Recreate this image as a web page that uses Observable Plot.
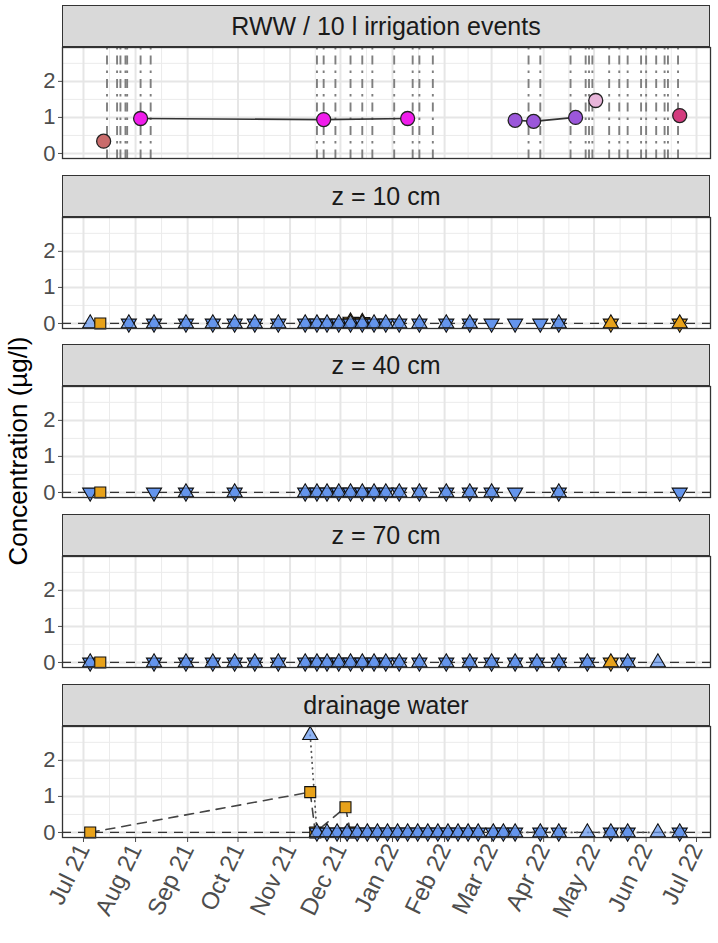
<!DOCTYPE html>
<html><head><meta charset="utf-8">
<script src="https://cdn.jsdelivr.net/npm/d3@7"></script>
<script src="https://cdn.jsdelivr.net/npm/@observablehq/plot@0.6"></script>
<style>
body{margin:0;background:#fff;}
#root{position:relative;width:718px;height:943px;font-family:"Liberation Sans",Arial,sans-serif;overflow:hidden;}
.strip{position:absolute;left:62px;width:648px;box-sizing:border-box;background:#D9D9D9;border:1.3px solid #333;display:flex;align-items:center;justify-content:center;font-size:25px;color:#1A1A1A;}
.panel{position:absolute;left:0;}
.panel svg{overflow:visible;}
#ylab{position:absolute;left:18px;top:451px;transform:translate(-50%,-50%) rotate(-90deg);font-size:26px;white-space:nowrap;color:#000;}
</style></head><body><div id="root"><div id="ylab">Concentration (µg/l)</div></div>
<script>
// ---------------- data ----------------
const facetNames = ["RWW / 10 l irrigation events", "z = 10 cm", "z = 40 cm", "z = 70 cm", "drainage water"];
const yTicks = [0, 1, 2];
const yMinor = [0.5, 1.5, 2.5];
const xTicks = ["2021-07-01","2021-08-01","2021-09-01","2021-10-01","2021-11-01","2021-12-01","2022-01-01","2022-02-01","2022-03-01","2022-04-01","2022-05-01","2022-06-01","2022-07-01"];

// RWW applied water
const rwwDates  = ["2021-07-13","2021-08-04","2021-11-21","2022-01-10","2022-03-15","2022-03-26","2022-04-20","2022-05-02","2022-06-21"];
const rwwValues = [0.34, 0.97, 0.94, 0.97, 0.92, 0.89, 1.00, 1.47, 1.05];
const rwwBatch  = ["b1","b2","b2","b2","b3","b3","b3","b4","b5"];

// irrigation events (10 l)
const irrigationDates = ["2021-07-15","2021-07-21","2021-07-23","2021-07-26","2021-07-27","2021-08-04","2021-08-10",
  "2021-11-17","2021-11-21","2021-11-28","2021-12-07","2021-12-14","2021-12-20",
  "2022-01-02","2022-01-13","2022-01-17","2022-01-25","2022-03-23","2022-03-30",
  "2022-04-17","2022-04-26","2022-04-28","2022-04-30","2022-05-10","2022-05-16","2022-05-21","2022-05-29",
  "2022-06-01","2022-06-07","2022-06-12","2022-06-14","2022-06-20"];

// z = 10 cm
const z10UpDates = ["2021-07-05","2021-07-28","2021-08-12","2021-08-31","2021-09-16","2021-09-29","2021-10-11","2021-10-25","2021-11-10","2021-11-17","2021-11-23","2021-11-30","2021-12-07","2021-12-14","2021-12-21","2021-12-28","2022-01-05","2022-01-17","2022-02-02","2022-02-16","2022-04-10"];
const z10DownDates = ["2021-07-28","2021-08-12","2021-08-31","2021-09-16","2021-09-29","2021-10-11","2021-10-25","2021-11-10","2021-11-17","2021-11-23","2021-11-30","2021-12-07","2021-12-14","2021-12-21","2021-12-28","2022-01-05","2022-01-17","2022-02-02","2022-02-16","2022-03-01","2022-03-15","2022-03-30","2022-04-10"];
const z10SquareDates = ["2021-07-11"];
const z10SquareValues = [0];
const z10StarDates = ["2021-12-07","2021-12-14","2022-05-11","2022-06-21"];
const z10StarValues = [0.05, 0.04, 0, 0];

// z = 40 cm
const z40UpDates = ["2021-08-31","2021-09-29","2021-11-10","2021-11-17","2021-11-23","2021-11-30","2021-12-07","2021-12-14","2021-12-21","2021-12-28","2022-01-05","2022-01-17","2022-02-02","2022-02-16","2022-03-01","2022-04-10"];
const z40DownDates = ["2021-07-05","2021-08-12","2021-08-31","2021-09-29","2021-11-10","2021-11-17","2021-11-23","2021-11-30","2021-12-07","2021-12-14","2021-12-21","2021-12-28","2022-01-05","2022-01-17","2022-02-02","2022-02-16","2022-03-01","2022-03-15","2022-04-10","2022-06-21"];
const z40SquareDates = ["2021-07-11"];
const z40SquareValues = [0];

// z = 70 cm
const z70UpDates = ["2021-07-05","2021-08-12","2021-08-31","2021-09-16","2021-09-29","2021-10-11","2021-10-25","2021-11-10","2021-11-17","2021-11-23","2021-11-30","2021-12-07","2021-12-14","2021-12-21","2021-12-28","2022-01-05","2022-01-17","2022-02-02","2022-02-16","2022-03-01","2022-03-15","2022-03-28","2022-04-10","2022-04-27","2022-05-21","2022-06-08"];
const z70DownDates = ["2021-07-05","2021-08-12","2021-08-31","2021-09-16","2021-09-29","2021-10-11","2021-10-25","2021-11-10","2021-11-17","2021-11-23","2021-11-30","2021-12-07","2021-12-14","2021-12-21","2021-12-28","2022-01-05","2022-01-17","2022-02-02","2022-02-16","2022-03-01","2022-03-15","2022-03-28","2022-04-10","2022-04-27","2022-05-21"];
const z70SquareDates = ["2021-07-11"];
const z70SquareValues = [0];
const z70StarDates = ["2022-05-11"];
const z70StarValues = [0];

// drainage water
const drUpDates = ["2021-11-13","2021-11-17","2021-11-23","2021-11-29","2021-12-05","2021-12-11","2021-12-17","2021-12-23","2021-12-29","2022-01-04","2022-01-10","2022-01-16","2022-01-22","2022-01-28","2022-02-03","2022-02-09","2022-02-15","2022-02-21","2022-03-02","2022-03-08","2022-03-15","2022-03-30","2022-04-10","2022-04-27","2022-05-11","2022-05-21","2022-06-08","2022-06-21"];
const drUpValues = [2.70,0,0,0,0,0,0,0,0,0,0,0,0,0,0,0,0,0,0,0,0,0,0,0,0,0,0,0];
const drDownDates = ["2021-11-17","2021-11-23","2021-11-29","2021-12-05","2021-12-11","2021-12-17","2021-12-23","2021-12-29","2022-01-04","2022-01-10","2022-01-16","2022-01-22","2022-01-28","2022-02-03","2022-02-09","2022-02-15","2022-02-21","2022-03-02","2022-03-08","2022-03-15","2022-03-30","2022-04-10","2022-05-11","2022-05-21","2022-06-21"];
const drSquareDates = ["2021-07-05","2021-11-13","2021-11-16","2021-12-04","2021-12-07"];
const drSquareValues = [0, 1.12, 0, 0.70, 0];

// ---------------- styles ----------------
const FONT = '"Liberation Sans", Arial, sans-serif';
const batchColors = {b1: "#C96B6B", b2: "#F01DEB", b3: "#9B57DA", b4: "#E8B5DA", b5: "#D33C7E"};
const BLUE = "#6495ED", ORANGE = "#E8A21A";
const panelTops = [47, 217, 386, 556, 726];
const PANEL_H = 111, PAD = 10, STRIP_H = 42;

const D = s => new Date(s + "T00:00:00Z");
const S3 = Math.sqrt(3);
const triDown = {draw(ctx, size) {
  const y = -Math.sqrt(size / (S3 * 3));
  ctx.moveTo(0, -2 * y); ctx.lineTo(S3 * y, y); ctx.lineTo(-S3 * y, y); ctx.closePath();
}};
const triUp = {draw(ctx, size) {
  const y = -Math.sqrt(size / (S3 * 3));
  ctx.moveTo(0, 2 * y); ctx.lineTo(-S3 * y, -y); ctx.lineTo(S3 * y, -y); ctx.closePath();
}};

const majorX = xTicks.map(D);
const minorX = majorX.slice(0, -1).map((d, i) => new Date((+d + +majorX[i + 1]) / 2));
const rows = (dates, values) => dates.map((d, i) => ({date: D(d), value: values ? values[i] : 0}));

function upDots(data) { return Plot.dot(data, {x: "date", y: "value", symbol: triUp, r: 5.6, fill: BLUE, fillOpacity: 0.72, stroke: "#111", strokeWidth: 1.1}); }
function downDots(data) { return Plot.dot(data, {x: "date", y: "value", symbol: triDown, r: 5.6, fill: BLUE, stroke: "#111", strokeWidth: 1.1}); }
function squareDots(data) { return Plot.dot(data, {x: "date", y: "value", symbol: "square", r: 6.2, fill: ORANGE, stroke: "#111", strokeWidth: 1.1}); }
function starDots(data) { return [
  Plot.dot(data, {x: "date", y: "value", symbol: triDown, r: 5.6, fill: ORANGE, stroke: "#111", strokeWidth: 1.1}),
  Plot.dot(data, {x: "date", y: "value", symbol: triUp, r: 5.6, fill: ORANGE, stroke: "#111", strokeWidth: 1.1})
]; }

const zeroLine = Plot.ruleY([0], {stroke: "#333", strokeWidth: 1.3, strokeDasharray: "9,7"});

const rwwData = rwwDates.map((d, i) => ({date: D(d), value: rwwValues[i], batch: rwwBatch[i]}));
const irr = irrigationDates.map(D);

const panelMarks = [
  [
    Plot.ruleX(irr, {x: d => d, stroke: "#7F7F7F", strokeWidth: 1.9, strokeDasharray: "2.5,6,9,6"}),
    Plot.line(rwwData.filter(d => d.batch === "b2" || d.batch === "b3"), {x: "date", y: "value", z: "batch", stroke: "#333", strokeWidth: 1.6}),
    Plot.dot(rwwData, {x: "date", y: "value", r: 7, fill: d => batchColors[d.batch], stroke: "#222", strokeWidth: 1.3})
  ],
  [
    zeroLine,
    starDots(rows(z10StarDates, z10StarValues).slice(0, 2)),
    downDots(rows(z10DownDates)), upDots(rows(z10UpDates)),
    squareDots(rows(z10SquareDates, z10SquareValues)),
    starDots(rows(z10StarDates, z10StarValues).slice(2))
  ],
  [
    zeroLine,
    downDots(rows(z40DownDates)), upDots(rows(z40UpDates)),
    squareDots(rows(z40SquareDates, z40SquareValues))
  ],
  [
    zeroLine,
    downDots(rows(z70DownDates)), upDots(rows(z70UpDates)),
    squareDots(rows(z70SquareDates, z70SquareValues)),
    starDots(rows(z70StarDates, z70StarValues))
  ],
  [
    zeroLine,
    Plot.line(rows(drSquareDates, drSquareValues), {x: "date", y: "value", stroke: "#444", strokeWidth: 1.6, strokeDasharray: "9,7"}),
    Plot.line(rows(drUpDates, drUpValues), {x: "date", y: "value", stroke: "#555", strokeWidth: 1.8, strokeDasharray: "0.5,5", strokeLinecap: "round"}),
    squareDots(rows(drSquareDates, drSquareValues)),
    downDots(rows(drDownDates)), upDots(rows(drUpDates, drUpValues))
  ]
];

const root = document.getElementById("root");
const X_DOMAIN = [new Date("2021-06-18T12:00:00Z"), new Date("2022-07-09T08:00:00Z")];

facetNames.forEach((name, k) => {
  const last = k === facetNames.length - 1;
  const strip = document.createElement("div");
  strip.className = "strip";
  strip.style.top = (panelTops[k] - STRIP_H) + "px";
  strip.style.height = STRIP_H + "px";
  strip.textContent = name;
  root.appendChild(strip);

  const mb = last ? 943 - panelTops[k] - PANEL_H : PAD;
  const chart = Plot.plot({
    width: 718,
    height: PAD + PANEL_H + mb,
    marginLeft: 62, marginRight: 8, marginTop: PAD, marginBottom: mb,
    style: {fontFamily: FONT, background: "transparent", overflow: "visible"},
    x: {type: "utc", domain: X_DOMAIN},
    y: {domain: [-0.14, 2.94]},
    marks: [
      Plot.gridX({ticks: minorX, stroke: "#EBEBEB", strokeOpacity: 1, strokeWidth: 1}),
      Plot.gridY({ticks: yMinor, stroke: "#EBEBEB", strokeOpacity: 1, strokeWidth: 1}),
      Plot.gridX({ticks: majorX, stroke: "#E6E6E6", strokeOpacity: 1, strokeWidth: 2}),
      Plot.gridY({ticks: yTicks, stroke: "#E6E6E6", strokeOpacity: 1, strokeWidth: 2}),
      Plot.axisY({ticks: yTicks, tickSize: 4, tickPadding: 3, fontSize: 22, color: "#4D4D4D", tickFormat: d => String(d), label: null}),
      last
        ? Plot.axisX({ticks: majorX, tickSize: 5, tickPadding: 3, tickRotate: -64, fontSize: 24, color: "#4D4D4D", tickFormat: d3.utcFormat("%b %y"), label: null})
        : Plot.axisX({ticks: [], label: null}),
      ...panelMarks[k].flat(),
      Plot.frame({stroke: "#333", strokeWidth: 1.3})
    ]
  });
  const wrap = document.createElement("div");
  wrap.className = "panel";
  wrap.style.top = (panelTops[k] - PAD) + "px";
  wrap.appendChild(chart);
  root.appendChild(wrap);
});
</script></body></html>
